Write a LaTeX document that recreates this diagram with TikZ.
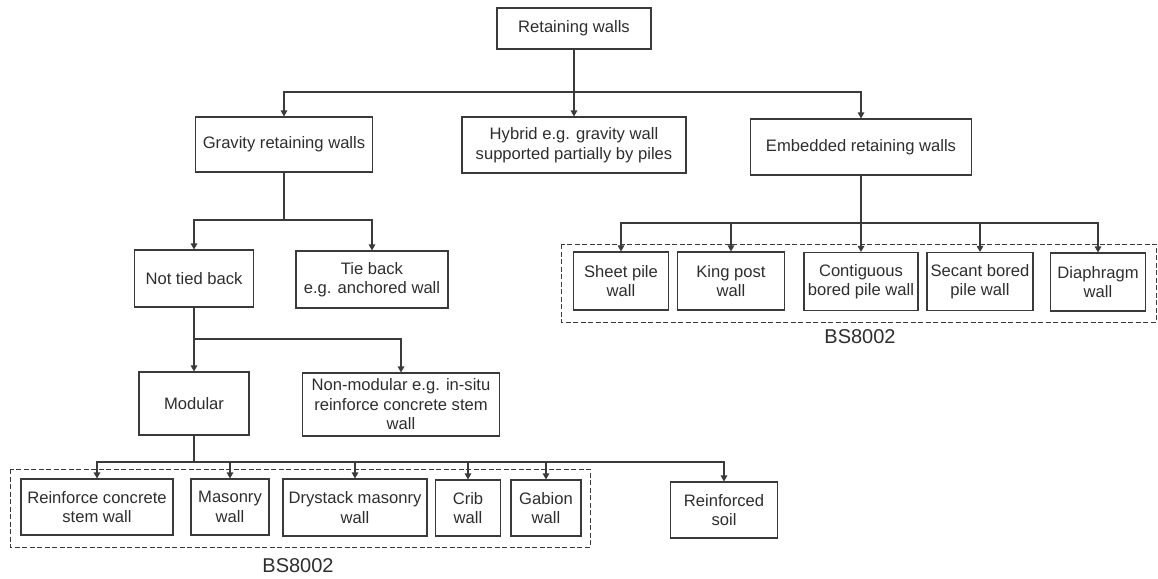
\documentclass[tikz,border=0pt]{standalone}
\usepackage{fontspec}
\setmainfont{Liberation Sans}
\usetikzlibrary{arrows.meta}
\definecolor{ink}{HTML}{3A3A3A}
\definecolor{txt}{HTML}{2E2E2E}
\tikzset{
  box/.style={draw=ink, line width=1.1pt, rectangle, align=center, inner sep=2pt,
    text=txt, font=\fontsize{16.6}{19.5}\selectfont},
  link/.style={draw=ink, line width=1.2pt},
  arr/.style={link, -{Triangle[width=6.5pt,length=6pt]}},
  group/.style={draw=ink, line width=1pt, dash pattern=on 5pt off 2.5pt},
  tag/.style={text=txt, font=\fontsize{20}{24}\selectfont}
}
\begin{document}
\begin{tikzpicture}[x=1pt,y=-1pt]
\useasboundingbox (0,0) rectangle (1158,578);
% dashed groups
\draw[group] (10,469) rectangle (590,547);
\draw[group] (561,244) rectangle (1156,322);
\node[tag] (bs1) at (298,566) {BS8002};
\node[tag] (bs2) at (860,337) {BS8002};
% nodes
\node[box, minimum width=154pt, minimum height=41pt] (root) at (574,28.5) {Retaining walls};
\node[box, minimum width=177pt, minimum height=55pt] (grav) at (284,144.5) {Gravity retaining walls};
\node[box, minimum width=224pt, minimum height=56pt] (hyb) at (574,145) {Hybrid e.g. gravity wall\\supported partially by piles};
\node[box, minimum width=221pt, minimum height=56pt] (emb) at (861,147) {Embedded retaining walls};
\node[box, minimum width=119pt, minimum height=57pt] (ntb) at (194,278.5) {Not tied back};
\node[box, minimum width=152pt, minimum height=57pt] (tie) at (372,279.5) {Tie back\\e.g. anchored wall};
\node[box, minimum width=110pt, minimum height=63pt] (mod) at (194,403.5) {Modular};
\node[box, minimum width=197pt, minimum height=63pt] (nonmod) at (401,404.5) {Non-modular e.g. in-situ\\reinforce concrete stem\\wall};
\node[box, minimum width=152pt, minimum height=56pt] (rc) at (97,507) {Reinforce concrete\\stem wall};
\node[box, minimum width=78pt, minimum height=56pt] (mas) at (230,507) {Masonry\\wall};
\node[box, minimum width=144pt, minimum height=57pt] (dry) at (355,507.5) {Drystack masonry\\wall};
\node[box, minimum width=65pt, minimum height=56pt] (crib) at (468,508) {Crib\\wall};
\node[box, minimum width=70pt, minimum height=56pt] (gab) at (546,508) {Gabion\\wall};
\node[box, minimum width=107pt, minimum height=56pt] (rsoil) at (724,510) {Reinforced\\soil};
\node[box, minimum width=95pt, minimum height=58pt] (sheet) at (621,281) {Sheet pile\\wall};
\node[box, minimum width=107pt, minimum height=58pt] (king) at (731,281) {King post\\wall};
\node[box, minimum width=114pt, minimum height=58pt] (cont) at (861,281.5) {Contiguous\\bored pile wall};
\node[box, minimum width=106pt, minimum height=58pt] (sec) at (980,281.5) {Secant bored\\pile wall};
\node[box, minimum width=95pt, minimum height=58pt] (dia) at (1098,282) {Diaphragm\\wall};
% junctions
\coordinate (j1) at (574,92);
\coordinate (j2) at (284,220);
\coordinate (j3) at (194,339);
\coordinate (j4) at (194,462);
\coordinate (j5) at (861,223);
% connectors
\draw[link] (root) -- (j1);
\draw[arr] (j1) -- (hyb);
\draw[arr] (j1) -| (grav);
\draw[arr] (j1) -| (emb);
\draw[link] (grav) -- (j2);
\draw[arr] (j2) -| (ntb);
\draw[arr] (j2) -| (tie);
\draw[link] (ntb) -- (j3);
\draw[arr] (j3) -- (mod);
\draw[arr] (j3) -| (nonmod);
\draw[link] (mod) -- (j4);
\draw[arr] (j4) -| (rc);
\draw[arr] (j4) -| (mas);
\draw[arr] (j4) -| (dry);
\draw[arr] (j4) -| (crib);
\draw[arr] (j4) -| (gab);
\draw[arr] (j4) -| (rsoil);
\draw[link] (emb) -- (j5);
\draw[arr] (j5) -| (sheet);
\draw[arr] (j5) -| (king);
\draw[arr] (j5) -- (cont);
\draw[arr] (j5) -| (sec);
\draw[arr] (j5) -| (dia);
\end{tikzpicture}
\end{document}
